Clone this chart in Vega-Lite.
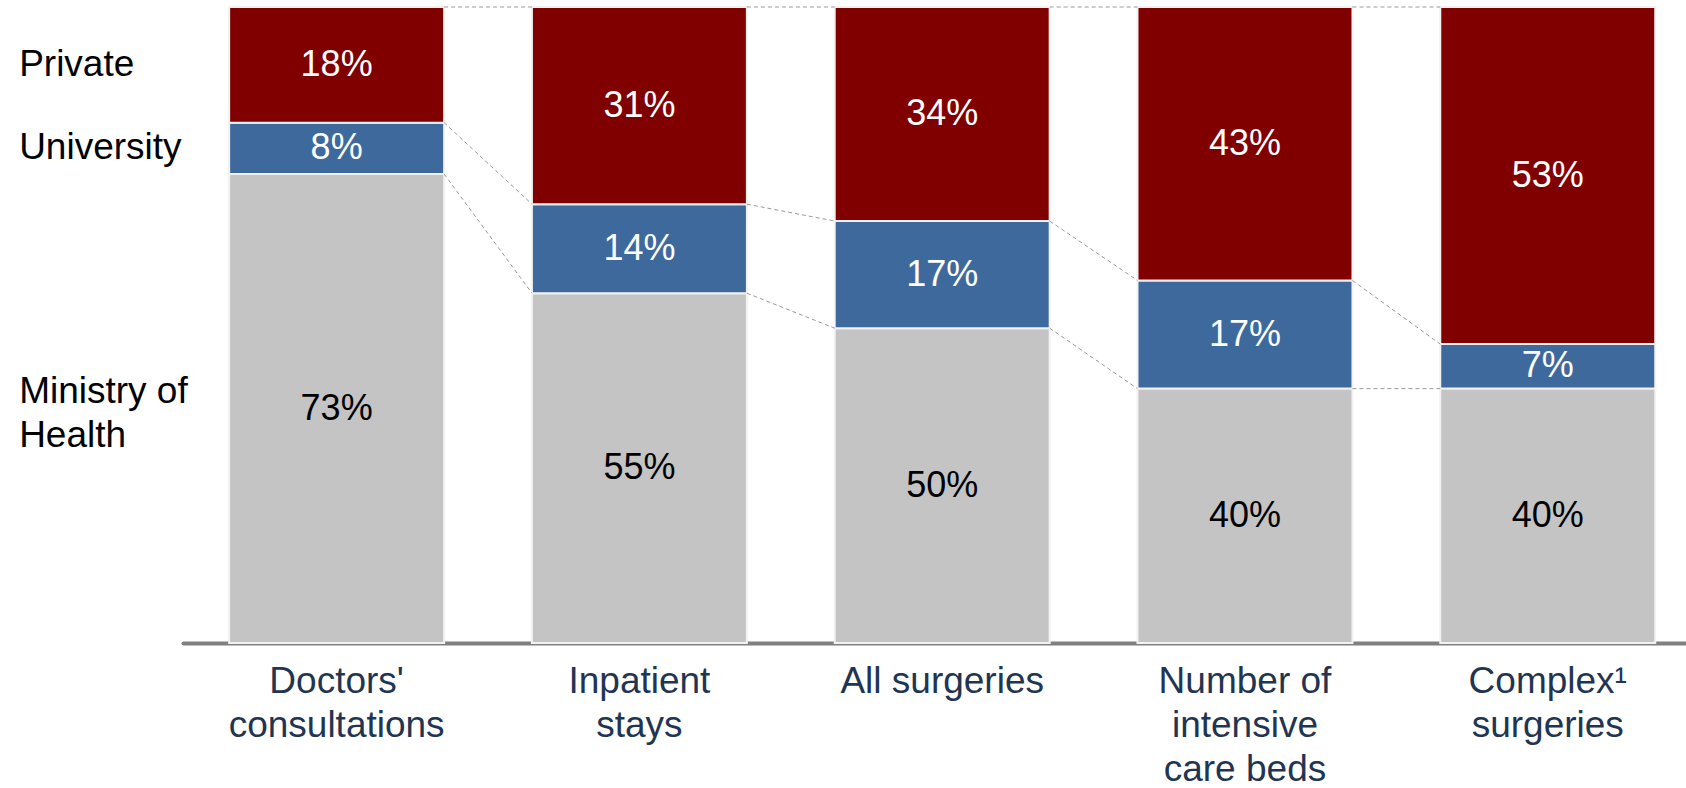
{
  "$schema": "https://vega.github.io/schema/vega-lite/v6.json",
  "width": 1503,
  "height": 636,
  "autosize": {"type": "none"},
  "padding": {"left": 183, "top": 7, "right": 0, "bottom": 145},
  "background": "white",
  "config": {"view": {"stroke": null}, "font": "Liberation Sans"},
  "datasets": {
    "shares": [
      {"category": "Doctors' consultations", "segment": "Ministry of Health", "order": 1, "value": 73},
      {"category": "Doctors' consultations", "segment": "University", "order": 2, "value": 8},
      {"category": "Doctors' consultations", "segment": "Private", "order": 3, "value": 18},
      {"category": "Inpatient stays", "segment": "Ministry of Health", "order": 1, "value": 55},
      {"category": "Inpatient stays", "segment": "University", "order": 2, "value": 14},
      {"category": "Inpatient stays", "segment": "Private", "order": 3, "value": 31},
      {"category": "All surgeries", "segment": "Ministry of Health", "order": 1, "value": 50},
      {"category": "All surgeries", "segment": "University", "order": 2, "value": 17},
      {"category": "All surgeries", "segment": "Private", "order": 3, "value": 34},
      {"category": "Number of intensive care beds", "segment": "Ministry of Health", "order": 1, "value": 40},
      {"category": "Number of intensive care beds", "segment": "University", "order": 2, "value": 17},
      {"category": "Number of intensive care beds", "segment": "Private", "order": 3, "value": 43},
      {"category": "Complex¹ surgeries", "segment": "Ministry of Health", "order": 1, "value": 40},
      {"category": "Complex¹ surgeries", "segment": "University", "order": 2, "value": 7},
      {"category": "Complex¹ surgeries", "segment": "Private", "order": 3, "value": 53}
    ],
    "links": [
      {"from": "Doctors' consultations", "to": "Inpatient stays", "level_from": 0.7374, "level_to": 0.55},
      {"from": "Doctors' consultations", "to": "Inpatient stays", "level_from": 0.8182, "level_to": 0.69},
      {"from": "Doctors' consultations", "to": "Inpatient stays", "level_from": 1, "level_to": 1},
      {"from": "Inpatient stays", "to": "All surgeries", "level_from": 0.55, "level_to": 0.495},
      {"from": "Inpatient stays", "to": "All surgeries", "level_from": 0.69, "level_to": 0.6634},
      {"from": "Inpatient stays", "to": "All surgeries", "level_from": 1, "level_to": 1},
      {"from": "All surgeries", "to": "Number of intensive care beds", "level_from": 0.495, "level_to": 0.40},
      {"from": "All surgeries", "to": "Number of intensive care beds", "level_from": 0.6634, "level_to": 0.57},
      {"from": "All surgeries", "to": "Number of intensive care beds", "level_from": 1, "level_to": 1},
      {"from": "Number of intensive care beds", "to": "Complex¹ surgeries", "level_from": 0.40, "level_to": 0.40},
      {"from": "Number of intensive care beds", "to": "Complex¹ surgeries", "level_from": 0.57, "level_to": 0.47},
      {"from": "Number of intensive care beds", "to": "Complex¹ surgeries", "level_from": 1, "level_to": 1}
    ]
  },
  "layer": [
    {
      "data": {"name": "shares"},
      "transform": [
        {"stack": "value", "groupby": ["category"], "sort": [{"field": "order", "order": "ascending"}], "offset": "normalize", "as": ["y0", "y1"]}
      ],
      "mark": {"type": "bar", "stroke": "#f2f2f2", "strokeWidth": 2},
      "encoding": {
        "x": {
          "field": "category",
          "type": "nominal",
          "sort": null,
          "scale": {
            "domain": ["Doctors' consultations", "Inpatient stays", "All surgeries", "Number of intensive care beds", "Complex¹ surgeries"],
            "paddingInner": 0.29,
            "paddingOuter": 0.127,
            "align": 0.6
          },
          "axis": {
            "title": null,
            "orient": "bottom",
            "domain": true,
            "domainColor": "#808080",
            "domainWidth": 4,
            "domainCap": "round",
            "ticks": false,
            "labelAngle": 0,
            "labelFont": "Liberation Sans",
            "labelFontSize": 37,
            "labelColor": "#1F3552",
            "labelLineHeight": 44,
            "labelPadding": 20,
            "labelBaseline": "top",
            "labelLimit": 0,
            "labelExpr": "datum.value == 'All surgeries' ? 'All surgeries' : datum.value == 'Number of intensive care beds' ? ['Number of', 'intensive', 'care beds'] : split(datum.value, ' ')"
          }
        },
        "y": {"field": "y0", "type": "quantitative", "scale": {"domain": [0, 1], "nice": false, "zero": true}, "axis": null},
        "y2": {"field": "y1"},
        "color": {
          "field": "segment",
          "type": "nominal",
          "scale": {"domain": ["Private", "University", "Ministry of Health"], "range": ["#800000", "#3E699D", "#C4C4C4"]},
          "legend": null
        }
      }
    },
    {
      "data": {"name": "links"},
      "mark": {"type": "rule", "color": "#9a9a9a", "strokeWidth": 1, "strokeDash": [4, 3], "x2Offset": {"expr": "-bandwidth('x') / 2"}},
      "encoding": {
        "x": {"field": "from", "type": "nominal", "bandPosition": 1},
        "x2": {"field": "to"},
        "y": {"field": "level_from", "type": "quantitative"},
        "y2": {"field": "level_to"}
      }
    },
    {
      "data": {"name": "shares"},
      "transform": [
        {"stack": "value", "groupby": ["category"], "sort": [{"field": "order", "order": "ascending"}], "offset": "normalize", "as": ["y0", "y1"]},
        {"calculate": "(datum.y0 + datum.y1) / 2", "as": "mid"},
        {"calculate": "datum.value + '%'", "as": "label"}
      ],
      "mark": {"type": "text", "fontSize": 36, "font": "Liberation Sans", "baseline": "middle", "align": "center"},
      "encoding": {
        "x": {"field": "category", "type": "nominal"},
        "y": {"field": "mid", "type": "quantitative"},
        "text": {"field": "label", "type": "nominal"},
        "color": {"condition": {"test": "datum.segment == 'Ministry of Health'", "value": "#000000"}, "value": "#ffffff"}
      }
    },
    {
      "data": {"name": "shares"},
      "transform": [
        {"stack": "value", "groupby": ["category"], "sort": [{"field": "order", "order": "ascending"}], "offset": "normalize", "as": ["y0", "y1"]},
        {"calculate": "(datum.y0 + datum.y1) / 2", "as": "mid"},
        {"filter": "datum.category == \"Doctors' consultations\" && datum.segment != 'Ministry of Health'"}
      ],
      "mark": {"type": "text", "fontSize": 37, "font": "Liberation Sans", "baseline": "middle", "align": "left", "dx": -210, "color": "#000000"},
      "encoding": {
        "x": {"field": "category", "type": "nominal", "bandPosition": 0},
        "y": {"field": "mid", "type": "quantitative"},
        "text": {"field": "segment", "type": "nominal"}
      }
    },
    {
      "data": {"name": "shares"},
      "transform": [
        {"stack": "value", "groupby": ["category"], "sort": [{"field": "order", "order": "ascending"}], "offset": "normalize", "as": ["y0", "y1"]},
        {"calculate": "(datum.y0 + datum.y1) / 2", "as": "mid"},
        {"filter": "datum.category == \"Doctors' consultations\" && datum.segment == 'Ministry of Health'"},
        {"calculate": "'Ministry of\\nHealth'", "as": "name"}
      ],
      "mark": {"type": "text", "fontSize": 37, "font": "Liberation Sans", "baseline": "middle", "align": "left", "dx": -210, "dy": -17, "lineBreak": "\n", "lineHeight": 44, "color": "#000000"},
      "encoding": {
        "x": {"field": "category", "type": "nominal", "bandPosition": 0},
        "y": {"field": "mid", "type": "quantitative"},
        "text": {"field": "name", "type": "nominal"}
      }
    }
  ]
}
